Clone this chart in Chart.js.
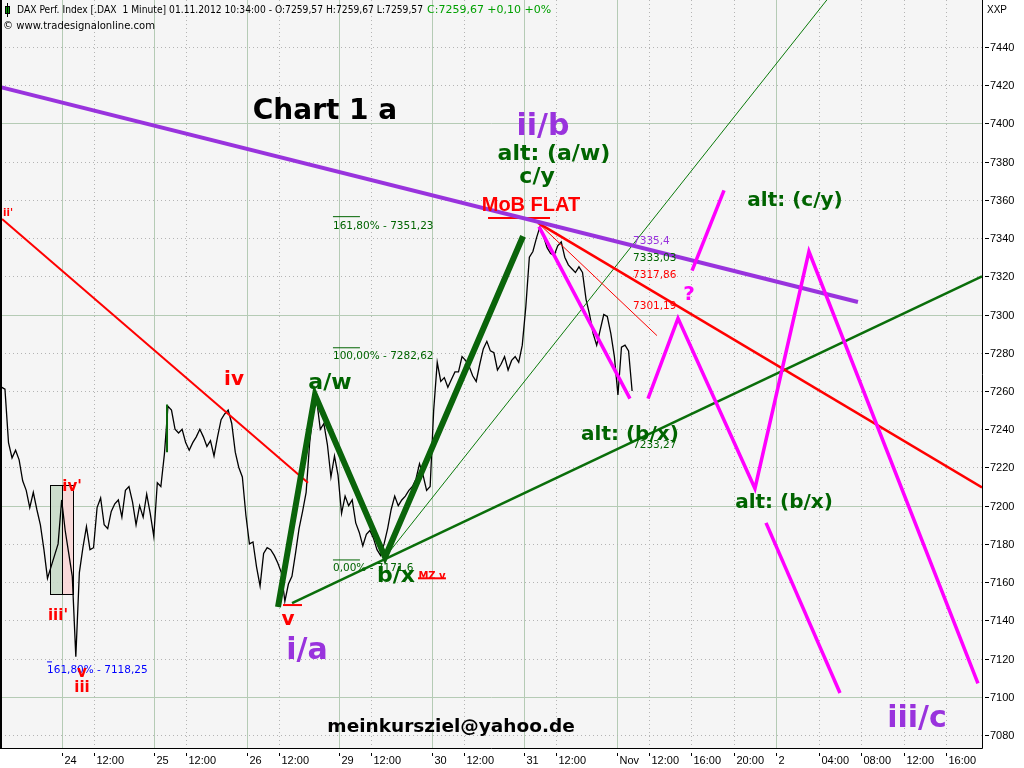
<!DOCTYPE html>
<html>
<head>
<meta charset="utf-8">
<script src="https://cdn.jsdelivr.net/npm/chart.js@4.4.0/dist/chart.umd.min.js"></script>
<style>
html, body { margin: 0; padding: 0; background: #fff; }
#wrap { width: 1024px; height: 768px; }
</style>
</head>
<body>
<div id="wrap"><canvas id="c" width="1024" height="768"></canvas></div>
<script>
// 时间轴: 以 10/24 09:00 为 0, 单位 = 图上的小时 (每个交易日约 8.7 小时)
const startHour = -5.7;      // 第一根数据: 10/23 12:00
const stepHour = 1 / 3;      // 每 20 分钟一个收盘价

// DAX 1 分钟图 (读图, 每 20 分钟取一个值)
const closes = [
  7262, 7261, 7233, 7225, 7229, 7224, 7213, 7208, 7199, 7207,
  7198, 7190, 7177, 7162, 7168, 7174, 7180, 7203, 7187, 7175,
  7163, 7121, 7165, 7178, 7189, 7177, 7178, 7199, 7204, 7190,
  7188, 7197, 7201, 7203, 7194, 7208, 7210, 7202, 7190, 7200,
  7194, 7206, 7196, 7184, 7212, 7210, 7227, 7252, 7250, 7240,
  7238, 7240, 7233, 7229, 7233, 7236, 7240, 7236, 7231, 7234,
  7226, 7236, 7245, 7248, 7250, 7243, 7228, 7220, 7215, 7195,
  7180, 7181, 7168, 7158, 7175, 7178, 7177, 7174, 7170, 7165,
  7150, 7159, 7163, 7175, 7188, 7197, 7207, 7233, 7249, 7255,
  7240, 7243, 7232, 7215, 7226, 7216, 7196, 7205, 7200, 7203,
  7191, 7186, 7179, 7185, 7187, 7183, 7177, 7174, 7180, 7188,
  7198, 7205, 7200, 7203, 7205, 7208, 7210, 7214, 7222, 7216,
  7208, 7210, 7250, 7275, 7265, 7267, 7262, 7266, 7270, 7270,
  7278, 7276, 7273, 7268, 7265, 7274, 7282, 7286, 7281, 7280,
  7271, 7274, 7278, 7271, 7276, 7278, 7275, 7284, 7304, 7330,
  7333, 7340, 7346, 7341, 7335, 7332, 7331, 7336, 7338, 7330,
  7326, 7324, 7322, 7325, 7322, 7308, 7300, 7290, 7284, 7292,
  7300, 7299, 7290, 7278, 7258, 7283, 7284, 7281, 7260
];

// x 轴刻度
const timeTicks = [0, 3, 8.7, 11.7, 17.4, 20.4, 26.1, 29.1, 34.8, 37.8, 43.5, 46.5,
                   52.2, 55.2, 59.2, 63.2, 67.2, 71.2, 75.2, 79.2, 83.2];
const timeLabels = ['24', '12:00', '25', '12:00', '26', '12:00', '29', '12:00', '30', '12:00',
                    '31', '12:00', 'Nov', '12:00', '16:00', '20:00', '2', '04:00', '08:00', '12:00', '16:00'];
const dayStarts = ['24', '25', '26', '29', '30', '31', 'Nov', '2'];

// y 轴刻度
const priceTicks = [7080, 7100, 7120, 7140, 7160, 7180, 7200, 7220, 7240, 7260, 7280,
                    7300, 7320, 7340, 7360, 7380, 7400, 7420, 7440];

// 趋势线和波浪 ([时间, 价格])
const waveMain = [[20.32, 7147], [23.80, 7258], [30.39, 7173], [43.37, 7341]];
const waveTick = [[9.88, 7253], [9.88, 7228]];
const purpleLine = [[-5.8, 7419], [74.88, 7306.6]];
const redLineOld = [[-5.64, 7350], [23.14, 7212]];
const redLineThick = [[44.78, 7348], [86.55, 7209.5]];
const redLineThin = [[44.78, 7348], [55.97, 7289]];
const greenFan = [[30.39, 7173], [75.0, 7486]];
const greenSupport = [[21.64, 7149], [86.55, 7320]];
const magentaDown = [[44.87, 7346], [53.43, 7256]];
const magentaPath = [[55.13, 7256], [57.95, 7298], [65.19, 7209], [70.27, 7333], [86.17, 7107]];
const magentaUp = [[59.27, 7323], [62.28, 7365]];
const magentaDown2 = [[66.23, 7191], [73.19, 7102]];
const redMarks = [
  [[40.08, 7350.5], [45.91, 7350.5]],
  [[20.79, 7148], [22.58, 7148]],
  [[33.49, 7162], [36.12, 7162]]
];
const fibMarks = [
  [[25.49, 7351.23], [28.03, 7351.23]],
  [[25.49, 7282.62], [28.03, 7282.62]],
  [[25.49, 7171.6], [28.03, 7171.6]]
];
const fibMarkBlue = [[-1.41, 7118.25], [-0.94, 7118.25]];

// 左侧两个方框 [x1, x2, 上, 下]
const boxes = [
  [-1.13, 0, 7211, 7154, 'rgba(200,218,200,0.9)'],
  [0, 1.03, 7211, 7154, 'rgba(248,214,214,0.9)']
];

// 图上的文字 [文字, 时间, 价格, 样式]
const notes = [
  ['161,80% - 7351,23', 25.49, 7346.3, 'fib'],
  ['100,00% - 7282,62', 25.49, 7278.3, 'fib'],
  ['0,00% - 7171,6', 25.49, 7167.4, 'fib'],
  ['161,80% - 7118,25', -1.41, 7114, 'fibBlue'],
  ['7335,4', 53.72, 7338.5, 'lvlPurple'],
  ['7333,03', 53.72, 7329.6, 'lvlGreen'],
  ['7317,86', 53.72, 7320.7, 'lvlRed'],
  ['7301,19', 53.72, 7304.5, 'lvlRed'],
  ['7233,27', 53.72, 7231.7, 'lvlGreen'],
  ['Chart 1 a', 24.74, 7406, 'title'],
  ['ii/b', 45.25, 7398.1, 'purple'],
  ['alt: (a/w)', 46.28, 7384, 'greenBig'],
  ['c/y', 44.69, 7372, 'greenBig'],
  ['MoB FLAT', 44.12, 7357.3, 'mob'],
  ['alt: (c/y)', 68.96, 7359.4, 'green'],
  ['?', 58.98, 7310.2, 'magenta'],
  ['iv', 16.18, 7265.7, 'red'],
  ['a/w', 25.21, 7264.2, 'greenBig'],
  ["iv'", 0.94, 7209.8, 'redSmall'],
  ["iii'", -0.38, 7142.3, 'redSmall'],
  ['v', 21.26, 7140.2, 'red'],
  ['i/a', 23.05, 7124, 'purple'],
  ['b/x', 31.42, 7163.2, 'greenBig'],
  ['MZ v', 34.81, 7163.2, 'redTiny'],
  ['alt: (b/x)', 53.43, 7237, 'green'],
  ['alt: (b/x)', 67.92, 7201.4, 'green'],
  ['iii', 1.88, 7104.6, 'redSmall'],
  ['v', 1.88, 7112.4, 'redSmall'],
  ["ii'", -5.08, 7353.1, 'redMini'],
  ['meinkursziel@yahoo.de', 36.6, 7084.2, 'email'],
  ['iii/c', 80.43, 7088.4, 'purple']
];

const noteStyles = {
  fib: ['10.5px "DejaVu Sans"', '#006400', 'left'],
  fibBlue: ['10.5px "DejaVu Sans"', '#0000ff', 'left'],
  lvlPurple: ['10.5px "DejaVu Sans"', '#9933dd', 'left'],
  lvlGreen: ['10.5px "DejaVu Sans"', '#006400', 'left'],
  lvlRed: ['10.5px "DejaVu Sans"', '#ff0000', 'left'],
  title: ['bold 28px "DejaVu Sans"', '#000000', 'center'],
  purple: ['bold 30px "DejaVu Sans"', '#9933dd', 'center'],
  green: ['bold 20px "DejaVu Sans"', '#006400', 'center'],
  greenBig: ['bold 22px "DejaVu Sans"', '#006400', 'center'],
  mob: ['bold 20px "Liberation Sans"', '#ff0000', 'center'],
  magenta: ['bold 20px "DejaVu Sans"', '#ff00ff', 'center'],
  red: ['bold 20px "DejaVu Sans"', '#ff0000', 'center'],
  redSmall: ['bold 15px "DejaVu Sans"', '#ff0000', 'center'],
  redTiny: ['bold 10px "DejaVu Sans"', '#ff0000', 'center'],
  redMini: ['bold 10px "DejaVu Sans"', '#ff0000', 'center'],
  email: ['bold 18.5px "DejaVu Sans"', '#000000', 'center']
};

function pts(list) {
  return list.map(p => ({ x: p[0], y: p[1] }));
}

function seg(data, color, width) {
  return { data: data, borderColor: color, borderWidth: width, showLine: true,
           pointRadius: 0, fill: false, tension: 0 };
}

const priceData = closes.map((v, i) => ({ x: startHour + i * stepHour, y: v }));

// 数据集: 越靠前越在上层
const datasets = [
  seg(pts(magentaDown), '#ff00ff', 3.5),
  seg(pts(magentaPath), '#ff00ff', 3.5),
  seg(pts(magentaUp), '#ff00ff', 3.5),
  seg(pts(magentaDown2), '#ff00ff', 3.5),
  seg(pts(waveMain), '#0a640a', 6),
  seg(pts(waveTick), '#0a640a', 2),
  seg(pts(purpleLine), '#9933dd', 4),
  seg(pts(redLineThick), '#ff0000', 2.5),
  seg(pts(redLineOld), '#ff0000', 2),
  seg(pts(redLineThin), '#ff0000', 1),
  ...redMarks.map(m => seg(pts(m), '#ff0000', 2)),
  ...fibMarks.map(m => seg(pts(m), '#006400', 1)),
  seg(pts(fibMarkBlue), '#0000ff', 1),
  seg(pts(greenSupport), '#0a6e0a', 2.5),
  seg(pts(greenFan), '#0a7a0a', 1),
  seg(priceData, '#000000', 1.3)
];

const decor = {
  id: 'decor',
  beforeDraw(chart) {
    const { ctx, chartArea: a } = chart;
    ctx.save();
    ctx.fillStyle = '#ffffff';
    ctx.fillRect(0, 0, chart.width, chart.height);
    ctx.fillStyle = '#f5f5f5';
    ctx.fillRect(a.left, a.top, a.right - a.left, a.bottom - a.top);
    ctx.restore();
  },
  beforeDatasetsDraw(chart) {
    const { ctx, chartArea: a, scales: { x, y } } = chart;
    ctx.save();
    ctx.lineWidth = 1;
    // 竖线
    timeTicks.forEach((t, i) => {
      const px = Math.round(x.getPixelForValue(t)) + 0.5;
      if (dayStarts.includes(timeLabels[i])) {
        ctx.setLineDash([]);
        ctx.strokeStyle = '#b5cbb5';
      } else {
        ctx.setLineDash([1, 3]);
        ctx.strokeStyle = '#b4b4b4';
      }
      ctx.beginPath();
      ctx.moveTo(px, a.top);
      ctx.lineTo(px, a.bottom);
      ctx.stroke();
    });
    // 横线
    priceTicks.forEach(p => {
      const py = Math.round(y.getPixelForValue(p)) + 0.5;
      if (p % 100 === 0) {
        ctx.setLineDash([]);
        ctx.strokeStyle = '#b5cbb5';
      } else {
        ctx.setLineDash([1, 3]);
        ctx.strokeStyle = '#b4b4b4';
      }
      ctx.beginPath();
      ctx.moveTo(a.left, py);
      ctx.lineTo(a.right, py);
      ctx.stroke();
    });
    ctx.setLineDash([]);
    // 方框
    boxes.forEach(b => {
      const x1 = Math.round(x.getPixelForValue(b[0])) + 0.5;
      const x2 = Math.round(x.getPixelForValue(b[1])) + 0.5;
      const y1 = Math.round(y.getPixelForValue(b[2])) + 0.5;
      const y2 = Math.round(y.getPixelForValue(b[3])) + 0.5;
      ctx.fillStyle = b[4];
      ctx.fillRect(x1, y1, x2 - x1, y2 - y1);
      ctx.strokeStyle = '#000';
      ctx.strokeRect(x1, y1, x2 - x1, y2 - y1);
    });
    ctx.restore();
  },
  afterDatasetsDraw(chart) {
    const { ctx, scales: { x, y } } = chart;
    ctx.save();
    ctx.textBaseline = 'middle';
    notes.forEach(n => {
      const st = noteStyles[n[3]];
      ctx.font = st[0];
      ctx.fillStyle = st[1];
      ctx.textAlign = st[2];
      ctx.fillText(n[0], x.getPixelForValue(n[1]), y.getPixelForValue(n[2]));
    });
    ctx.restore();
  },
  afterDraw(chart) {
    const { ctx, chartArea: a, scales: { x, y } } = chart;
    ctx.save();
    // 边框
    ctx.strokeStyle = '#000';
    ctx.lineWidth = 2;
    ctx.beginPath();
    ctx.moveTo(1, 0);
    ctx.lineTo(1, a.bottom);
    ctx.stroke();
    ctx.lineWidth = 1;
    ctx.beginPath();
    ctx.moveTo(a.right + 0.5, 0);
    ctx.lineTo(a.right + 0.5, a.bottom + 0.5);
    ctx.lineTo(0, a.bottom + 0.5);
    ctx.stroke();

    // x 轴
    ctx.font = '11px "Liberation Sans"';
    ctx.fillStyle = '#000';
    ctx.textAlign = 'left';
    ctx.textBaseline = 'alphabetic';
    timeTicks.forEach((t, i) => {
      const px = Math.round(x.getPixelForValue(t)) + 0.5;
      ctx.beginPath();
      ctx.moveTo(px, a.bottom + 5);
      ctx.lineTo(px, a.bottom + 8);
      ctx.stroke();
      ctx.fillText(timeLabels[i], px + 2, a.bottom + 16);
    });

    // y 轴
    ctx.textBaseline = 'middle';
    priceTicks.forEach(p => {
      const py = Math.round(y.getPixelForValue(p)) + 0.5;
      ctx.beginPath();
      ctx.moveTo(a.right + 3, py);
      ctx.lineTo(a.right + 7, py);
      ctx.stroke();
      ctx.fillText(String(p), a.right + 8, py);
    });
    ctx.font = '10px "Liberation Sans"';
    ctx.fillText('XXP', a.right + 5, 10);

    // 标题栏
    ctx.fillStyle = '#00a000';
    ctx.fillRect(5, 6, 5, 8);
    ctx.strokeRect(5.5, 6.5, 4, 7);
    ctx.beginPath();
    ctx.moveTo(7.5, 3);
    ctx.lineTo(7.5, 17);
    ctx.stroke();
    ctx.font = '11px "DejaVu Sans"';
    ctx.fillStyle = '#000';
    ctx.textBaseline = 'middle';
    ctx.fillText('DAX Perf. Index [.DAX  1 Minute] 01.11.2012 10:34:00 - O:7259,57 H:7259,67 L:7259,57', 17, 10, 406);
    ctx.fillStyle = '#00a000';
    ctx.fillText('C:7259,67 +0,10 +0%', 427, 10, 139);
    ctx.fillStyle = '#000';
    ctx.fillText('\u00a9 www.tradesignalonline.com', 3, 26, 152);
    ctx.restore();
  }
};

new Chart(document.getElementById('c').getContext('2d'), {
  type: 'scatter',
  data: { datasets: datasets },
  options: {
    responsive: false,
    animation: false,
    events: [],
    layout: { padding: { left: 1, right: 42, top: 0, bottom: 20 } },
    plugins: { legend: { display: false }, tooltip: { enabled: false } },
    scales: {
      x: { type: 'linear', display: false, min: -5.739, max: 86.55 },
      y: { type: 'linear', display: false, min: 7073.2, max: 7464.6 }
    }
  },
  plugins: [decor]
});
</script>
</body>
</html>
